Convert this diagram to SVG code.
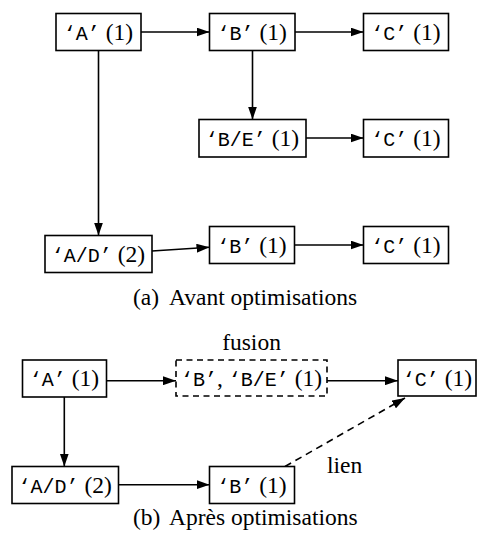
<svg xmlns="http://www.w3.org/2000/svg" width="478" height="539" viewBox="0 0 478 539">
<style>
.box{fill:#fff;stroke:#000;stroke-width:1.6}
.dbox{fill:#fff;stroke:#000;stroke-width:1.6;stroke-dasharray:6 4.5}
.t{font-family:"Liberation Serif","Times New Roman",serif;font-size:23.5px;fill:#000}
.m{font-family:"Liberation Mono","Courier New",monospace;font-size:20px}
.c{stroke:#000;stroke-width:1.6;fill:none;marker-end:url(#ah)}
.d{stroke-dasharray:7 5}
</style>
<defs>
<marker id="ah" markerUnits="userSpaceOnUse" markerWidth="13" markerHeight="9" refX="13" refY="4.5" orient="auto">
<path d="M0,0 L13,4.5 L0,9 z" fill="#000"/>
</marker>
</defs>
<g id="connectors">
<line class="c" x1="141" y1="32" x2="209.5" y2="32"/>
<line class="c" x1="295" y1="32" x2="363.5" y2="32"/>
<line class="c" x1="252.5" y1="50.5" x2="252.5" y2="119.5"/>
<line class="c" x1="306" y1="138" x2="363.5" y2="138"/>
<line class="c" x1="98.5" y1="50.5" x2="98.5" y2="235.5"/>
<line class="c" x1="152" y1="251" x2="209.5" y2="247.3"/>
<line class="c" x1="294.5" y1="245" x2="363.5" y2="245"/>
<line class="c" x1="106.5" y1="380.7" x2="176" y2="380.7"/>
<line class="c" x1="327" y1="380.7" x2="398" y2="380.7"/>
<line class="c" x1="64.3" y1="397" x2="64.3" y2="466.5"/>
<line class="c" x1="118.5" y1="484.7" x2="209.5" y2="484.7"/>
<line class="c d" x1="285" y1="466.5" x2="405" y2="398"/>
</g>
<g id="a_A"><rect class="box" x="56" y="13.5" width="85" height="37"/><text class="t" x="98.5" y="39.5" text-anchor="middle"><tspan class="m">‘A’</tspan> (1)</text></g>
<g id="a_B"><rect class="box" x="209.5" y="13.5" width="85.5" height="37"/><text class="t" x="252.2" y="39.5" text-anchor="middle"><tspan class="m">‘B’</tspan> (1)</text></g>
<g id="a_C"><rect class="box" x="363.5" y="13.5" width="85" height="37"/><text class="t" x="406" y="39.5" text-anchor="middle"><tspan class="m">‘C’</tspan> (1)</text></g>
<g id="a_BE"><rect class="box" x="199" y="119.5" width="107" height="37.5"/><text class="t" x="252.5" y="145.5" text-anchor="middle"><tspan class="m">‘B/E’</tspan> (1)</text></g>
<g id="a_C2"><rect class="box" x="363.5" y="119.5" width="85" height="37.5"/><text class="t" x="406" y="145.5" text-anchor="middle"><tspan class="m">‘C’</tspan> (1)</text></g>
<g id="a_AD"><rect class="box" x="45" y="235.5" width="107" height="37"/><text class="t" x="98.5" y="261.5" text-anchor="middle"><tspan class="m">‘A/D’</tspan> (2)</text></g>
<g id="a_B3"><rect class="box" x="209.5" y="226.5" width="85" height="37"/><text class="t" x="252" y="252.5" text-anchor="middle"><tspan class="m">‘B’</tspan> (1)</text></g>
<g id="a_C3"><rect class="box" x="363.5" y="226.5" width="85" height="37"/><text class="t" x="406" y="252.5" text-anchor="middle"><tspan class="m">‘C’</tspan> (1)</text></g>
<g id="caption_a"><text class="t" x="133" y="305">(a)</text><text class="t" x="169" y="305">Avant optimisations</text></g>
<g id="label_fusion"><text class="t" x="251.5" y="350" text-anchor="middle">fusion</text></g>
<g id="b_A"><rect class="box" x="22.5" y="360" width="84" height="37"/><text class="t" x="64.5" y="386" text-anchor="middle"><tspan class="m">‘A’</tspan> (1)</text></g>
<g id="b_fusion"><rect class="dbox" x="176" y="360" width="151" height="36"/><text class="t" x="251.5" y="386" text-anchor="middle"><tspan class="m">‘B’</tspan>, <tspan class="m">‘B/E’</tspan> (1)</text></g>
<g id="b_C"><rect class="box" x="398" y="360" width="78" height="36"/><text class="t" x="437.5" y="386" text-anchor="middle"><tspan class="m">‘C’</tspan> (1)</text></g>
<g id="b_AD"><rect class="box" x="12" y="466.5" width="106.5" height="37"/><text class="t" x="65.2" y="492.5" text-anchor="middle"><tspan class="m">‘A/D’</tspan> (2)</text></g>
<g id="b_B"><rect class="box" x="209.5" y="466.5" width="85" height="37"/><text class="t" x="252" y="492.5" text-anchor="middle"><tspan class="m">‘B’</tspan> (1)</text></g>
<g id="label_lien"><text class="t" x="327" y="473">lien</text></g>
<g id="caption_b"><text class="t" x="133" y="525">(b)</text><text class="t" x="169" y="525">Après optimisations</text></g>
</svg>
